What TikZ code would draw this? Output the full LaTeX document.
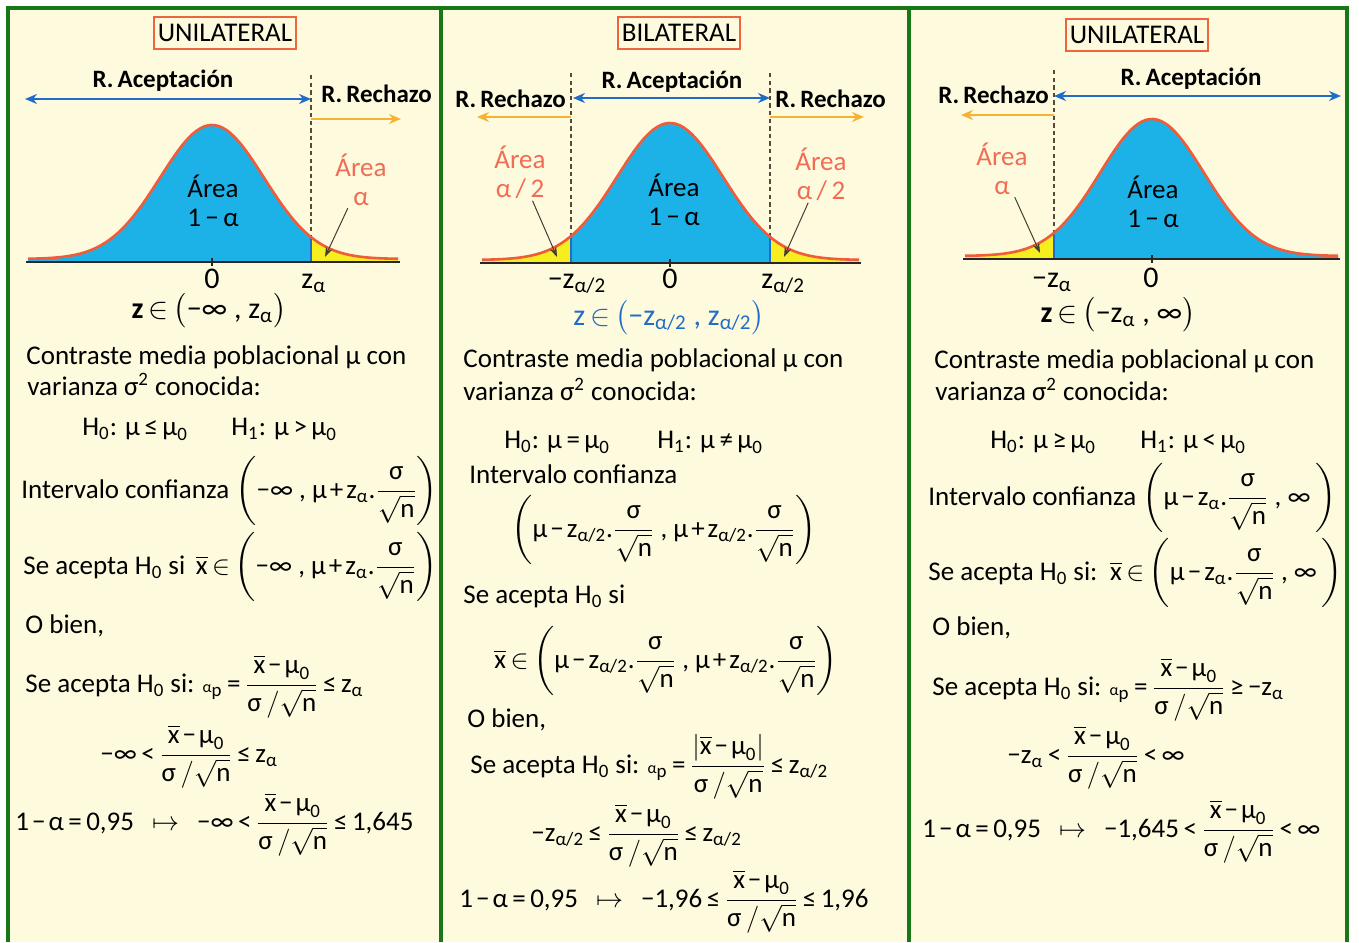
\documentclass[tikz,border=0pt]{standalone}
\usepackage{fix-cm}
\usepackage{amsmath}
\usepackage{fontspec}
\setmainfont{Carlito}
\usetikzlibrary{arrows.meta}

\definecolor{panelgreen}{RGB}{24,120,24}
\definecolor{paper}{RGB}{253,250,222}
\definecolor{accfill}{RGB}{28,178,232}
\definecolor{tailfill}{RGB}{246,238,30}
\definecolor{curvered}{RGB}{240,92,58}
\definecolor{titlered}{RGB}{238,100,60}
\definecolor{accblue}{RGB}{32,108,200}
\definecolor{rejorange}{RGB}{246,178,52}
\definecolor{dashbrown}{RGB}{88,72,58}
\definecolor{arealbl}{RGB}{242,108,84}
\definecolor{pointergray}{RGB}{70,60,50}

\medmuskip=2mu plus 1mu minus 1mu
\thickmuskip=3mu plus 2mu
\newcommand\bodyfont{\fontsize{13.5}{16}\selectfont}
% glyphs from the text font when it has them
\newcommand\qglyph[2]{\text{\iffontchar\font"#1\relax\char"#1\relax\else$#2$\fi}}
\newcommand\qinf{\mathord{\qglyph{221E}{\infty}}}
\newcommand\qle{\mathrel{\qglyph{2264}{\le}}}
\newcommand\qge{\mathrel{\qglyph{2265}{\ge}}}
\newcommand\qne{\mathrel{\qglyph{2260}{\ne}}}
\newcommand\qmin{\mathbin{\qglyph{2212}{-}}}
\newcommand\qplus{\mathbin{\text{+}}}
\newcommand\qlt{\mathrel{\text{<}}}
\newcommand\qgt{\mathrel{\text{>}}}
\newcommand\qeq{\mathrel{\text{=}}}
\newcommand\qmu{\text{μ}}
\newcommand\qal{\text{α}}
\newcommand\qsig{\text{σ}}
\newcommand\qz{\text{z}}
\newcommand\qxb{\overline{\text{x}}}
\newcommand\qH[1]{\text{H}_{\text{#1}}}
\newcommand\qsn{\dfrac{\qsig}{\sqrt{\text{n}}}}
\newcommand\qstat{\dfrac{\qxb\qmin\qmu_{\text{0}}}{\qsig\,/\sqrt{\text{n}}}}
\newcommand\qap{\text{\footnotesize α}_{\text{p}}}
\newcommand\qto{\hspace{0.5em}\mapsto\hspace{0.5em}}

\begin{document}
\begin{tikzpicture}[x=0.5pt, y=-0.5pt, >={Stealth[length=6pt,width=5pt]},
    declare function={gauss(\x,\m,\s)=exp(-0.5*pow((\x-\m)/\s,2));},
    panel/.style={draw=panelgreen, line width=1.7pt},
    titlebox/.style={draw=titlered, line width=0.8pt, inner xsep=2pt, inner ysep=3.6pt, font=\bodyfont},
    region/.style={font=\bfseries\fontsize{12.5}{15}\selectfont, inner sep=0pt},
    acc/.style={<->, draw=accblue, line width=1pt},
    rej/.style={->, draw=rejorange, line width=1pt},
    bound/.style={draw=dashbrown, line width=0.9pt, dash pattern=on 2.2pt off 1.6pt},
    curve/.style={draw=curvered, line width=1.3pt},
    axisline/.style={draw=black!85, line width=1pt},
    edge/.style={draw=accblue, line width=0.8pt},
    arealbl/.style={text=arealbl, align=center, font=\fontsize{13.5}{14.5}\selectfont, inner sep=1pt},
    areamid/.style={align=center, font=\fontsize{13.5}{14.5}\selectfont},
    pointer/.style={->, draw=pointergray, line width=0.5pt, >={Stealth[length=5pt,width=3.5pt]}},
    tick/.style={anchor=base, font=\fontsize{15}{17}\selectfont, inner sep=0pt},
    txt/.style={anchor=base west, inner sep=0pt, font=\bodyfont}]

    \useasboundingbox (0,0) rectangle (1359,942);
    % Paper and panels
    \fill[paper] (8,8) rectangle (1347,942);
    \draw[panel] (8,942) -- (8,8) -- (1347,8) -- (1347,942);
    \draw[panel] (441,8) -- (441,942);
    \draw[panel] (909,8) -- (909,942);

    % ---------------- Left panel: unilateral (right tail)
    \node[titlebox] (tL) at (225,33) {UNILATERAL};
    \coordinate (zLtop) at (311,75);
    \coordinate (zLbot) at (311,262);
    \draw[bound] (zLtop) -- (zLbot);
    \fill[accfill] (28,262) -- plot[domain=28:311,samples=60] (\x,{259-134*gauss(\x,212,52)}) -- (311,262) -- cycle;
    \fill[tailfill] (311,262) -- plot[domain=311:398,samples=30] (\x,{259-134*gauss(\x,212,52)}) -- (398,262) -- cycle;
    \draw[edge] (zLbot) -- (311,{259-134*gauss(311,212,52)});
    \draw[axisline] (26,262) -- (400,262);
    \draw[axisline] (212,258) -- (212,266);
    \draw[curve] plot[domain=28:398,samples=100] (\x,{259-134*gauss(\x,212,52)});
    \node[region, anchor=base] (accLbl) at (163,87) {R.\,Aceptación};
    \node[region, anchor=base west] (rejLbl) at (321,102) {R.\,Rechazo};
    \coordinate (accL) at (25,99);
    \draw[acc] (accL) -- (accL -| zLtop);
    \coordinate (rejL) at (401,119);
    \draw[rej] (rejL -| zLtop) -- (rejL);
    \node[areamid] (midL) at (213,201) {Área\\1\,$\qmin$\,α};
    \node[arealbl] (aLbl) at (361,180) {Área\\α};
    \coordinate (tipL) at (325,257);
    \draw[pointer] (aLbl) -- (tipL);
    \node[tick] (zeroL) at (212,288) {0};
    \node[tick, anchor=base west] (zaL) at (301,288) {$\qz_{\qal}$};
    \node[tick] (intL) at (209,318) {\textbf{z}\,$\in\bigl(\qmin\qinf\text{ , }\qz_{\qal}\bigr)$};

    \node[txt] (c1L) at (26,364) {Contraste media poblacional μ con};
    \node[txt] (c2L) at (27,395) {varianza $\qsig^{\text{2}}$ conocida:};
    \node[txt] (h0L) at (82,435) {$\qH{0}$: $\qmu\qle\qmu_{\text{0}}$};
    \node[txt] (h1L) at (231,435) {$\qH{1}$: $\qmu\qgt\qmu_{\text{0}}$};
    \node[txt] (icL) at (21,498) {Intervalo confianza $\left(\qmin\qinf\text{ , }\qmu\qplus\qz_{\qal}\text{.}\qsn\right)$};
    \node[txt] (saL) at (23,574) {Se acepta $\qH{0}$ si\, $\qxb\in\left(\qmin\qinf\text{ , }\qmu\qplus\qz_{\qal}\text{.}\qsn\right)$};
    \node[txt] (obL) at (25,633) {O bien,};
    \node[txt] (pL) at (25,692) {Se acepta $\qH{0}$ si: $\qap\qeq\qstat\qle\qz_{\qal}$};
    \node[txt] (rL) at (100,762) {$\qmin\qinf\qlt\qstat\qle\qz_{\qal}$};
    \node[txt] (nL) at (15,830) {$\text{1}\qmin\qal\qeq\text{0,95}\qto\qmin\qinf\qlt\qstat\qle\text{1,645}$};

    % ---------------- Middle panel: bilateral
    \node[titlebox] (tM) at (679,33) {BILATERAL};
    \coordinate (zMatop) at (571,73);
    \coordinate (zMabot) at (571,263);
    \coordinate (zMbtop) at (770,73);
    \coordinate (zMbbot) at (770,263);
    \draw[bound] (zMatop) -- (zMabot);
    \draw[bound] (zMbtop) -- (zMbbot);
    \fill[tailfill] (482,263) -- plot[domain=482:571,samples=30] (\x,{260-137*gauss(\x,670,53)}) -- (571,263) -- cycle;
    \fill[accfill] (571,263) -- plot[domain=571:770,samples=60] (\x,{260-137*gauss(\x,670,53)}) -- (770,263) -- cycle;
    \fill[tailfill] (770,263) -- plot[domain=770:859,samples=30] (\x,{260-137*gauss(\x,670,53)}) -- (859,263) -- cycle;
    \draw[edge] (zMabot) -- (571,{260-137*gauss(571,670,53)});
    \draw[edge] (zMbbot) -- (770,{260-137*gauss(770,670,53)});
    \draw[axisline] (480,263) -- (861,263);
    \draw[axisline] (670,259) -- (670,267);
    \draw[curve] plot[domain=482:859,samples=100] (\x,{260-137*gauss(\x,670,53)});
    \node[region, anchor=base] (accMLbl) at (672,88) {R.\,Aceptación};
    \node[region, anchor=base west] (rejMaLbl) at (455,107) {R.\,Rechazo};
    \node[region, anchor=base west] (rejMbLbl) at (775,107) {R.\,Rechazo};
    \coordinate (accM) at (573,98);
    \draw[acc] (accM) -- (accM -| zMbtop);
    \coordinate (rejMa) at (477,117);
    \coordinate (rejMb) at (864,117);
    \draw[rej] (rejMa -| zMatop) -- (rejMa);
    \draw[rej] (rejMb -| zMbtop) -- (rejMb);
    \node[areamid] (midM) at (674,200) {Área\\1\,$\qmin$\,α};
    \node[arealbl] (aMaLbl) at (520,172) {Área\\α\,/\,2};
    \node[arealbl] (aMbLbl) at (821,174) {Área\\α\,/\,2};
    \coordinate (tipMa) at (557,257);
    \coordinate (tipMb) at (784,257);
    \draw[pointer] (aMaLbl) -- (tipMa);
    \draw[pointer] (aMbLbl) -- (tipMb);
    \node[tick] (zaMa) at (577,288) {$\qmin\qz_{\text{α/2}}$};
    \node[tick] (zeroM) at (670,288) {0};
    \node[tick, anchor=base west] (zaMb) at (761,288) {$\qz_{\text{α/2}}$};
    \node[tick, text=accblue] (intM) at (669,325) {z\,$\in\bigl(\qmin\qz_{\text{α/2}}\text{ , }\qz_{\text{α/2}}\bigr)$};

    \node[txt] (c1M) at (463,367) {Contraste media poblacional μ con};
    \node[txt] (c2M) at (463,400) {varianza $\qsig^{\text{2}}$ conocida:};
    \node[txt] (h0M) at (504,448) {$\qH{0}$: $\qmu\qeq\qmu_{\text{0}}$};
    \node[txt] (h1M) at (657,448) {$\qH{1}$: $\qmu\qne\qmu_{\text{0}}$};
    \node[txt] (icM) at (469,483) {Intervalo confianza};
    \node[txt] (ivM) at (511,537) {$\left(\qmu\qmin\qz_{\text{α/2}}\text{.}\qsn\text{ , }\qmu\qplus\qz_{\text{α/2}}\text{.}\qsn\right)$};
    \node[txt] (saM) at (463,603) {Se acepta $\qH{0}$ si};
    \node[txt] (svM) at (494,668) {$\qxb\in\left(\qmu\qmin\qz_{\text{α/2}}\text{.}\qsn\text{ , }\qmu\qplus\qz_{\text{α/2}}\text{.}\qsn\right)$};
    \node[txt] (obM) at (467,727) {O bien,};
    \node[txt] (pM) at (470,773) {Se acepta $\qH{0}$ si: $\qap\qeq\dfrac{\left|\qxb\qmin\qmu_{\text{0}}\right|}{\qsig\,/\sqrt{\text{n}}}\qle\qz_{\text{α/2}}$};
    \node[txt] (rM) at (531,841) {$\qmin\qz_{\text{α/2}}\qle\qstat\qle\qz_{\text{α/2}}$};
    \node[txt] (nM) at (459,907) {$\text{1}\qmin\qal\qeq\text{0,95}\qto\qmin\text{1,96}\qle\qstat\qle\text{1,96}$};

    % ---------------- Right panel: unilateral (left tail)
    \node[titlebox] (tR) at (1137,35) {UNILATERAL};
    \coordinate (zRtop) at (1054,70);
    \coordinate (zRbot) at (1054,259);
    \draw[bound] (zRtop) -- (zRbot);
    \fill[tailfill] (965,259) -- plot[domain=965:1054,samples=30] (\x,{256-137*gauss(\x,1152,52)}) -- (1054,259) -- cycle;
    \fill[accfill] (1054,259) -- plot[domain=1054:1338,samples=60] (\x,{256-137*gauss(\x,1152,52)}) -- (1338,259) -- cycle;
    \draw[edge] (zRbot) -- (1054,{256-137*gauss(1054,1152,52)});
    \draw[axisline] (963,259) -- (1340,259);
    \draw[axisline] (1152,255) -- (1152,263);
    \draw[curve] plot[domain=965:1338,samples=100] (\x,{256-137*gauss(\x,1152,52)});
    \node[region, anchor=base] (accRLbl) at (1191,85) {R.\,Aceptación};
    \node[region, anchor=base west] (rejRLbl) at (938,103) {R.\,Rechazo};
    \coordinate (accR) at (1341,96);
    \draw[acc] (accR -| zRtop) -- (accR);
    \coordinate (rejR) at (961,115);
    \draw[rej] (rejR -| zRtop) -- (rejR);
    \node[areamid] (midR) at (1153,202) {Área\\1\,$\qmin$\,α};
    \node[arealbl] (aRLbl) at (1002,169) {Área\\α};
    \coordinate (tipR) at (1040,253);
    \draw[pointer] (aRLbl) -- (tipR);
    \node[tick] (zaR) at (1052,287) {$\qmin\qz_{\qal}$};
    \node[tick] (zeroR) at (1151,287) {0};
    \node[tick] (intR) at (1118,322) {\textbf{z}\,$\in\bigl(\qmin\qz_{\qal}\text{ , }\qinf\bigr)$};

    \node[txt] (c1R) at (934,368) {Contraste media poblacional μ con};
    \node[txt] (c2R) at (935,400) {varianza $\qsig^{\text{2}}$ conocida:};
    \node[txt] (h0R) at (990,448) {$\qH{0}$: $\qmu\qge\qmu_{\text{0}}$};
    \node[txt] (h1R) at (1140,448) {$\qH{1}$: $\qmu\qlt\qmu_{\text{0}}$};
    \node[txt] (icR) at (928,505) {Intervalo confianza $\left(\qmu\qmin\qz_{\qal}\text{.}\qsn\text{ , }\qinf\;\right)$};
    \node[txt] (saR) at (928,580) {Se acepta $\qH{0}$ si:\, $\qxb\in\left(\qmu\qmin\qz_{\qal}\text{.}\qsn\text{ , }\qinf\;\right)$};
    \node[txt] (obR) at (932,635) {O bien,};
    \node[txt] (pR) at (932,695) {Se acepta $\qH{0}$ si: $\qap\qeq\qstat\qge\qmin\qz_{\qal}$};
    \node[txt] (rR) at (1007,763) {$\qmin\qz_{\qal}\qlt\qstat\qlt\qinf$};
    \node[txt] (nR) at (922,837) {$\text{1}\qmin\qal\qeq\text{0,95}\qto\qmin\text{1,645}\qlt\qstat\qlt\qinf$};
\end{tikzpicture}
\end{document}
